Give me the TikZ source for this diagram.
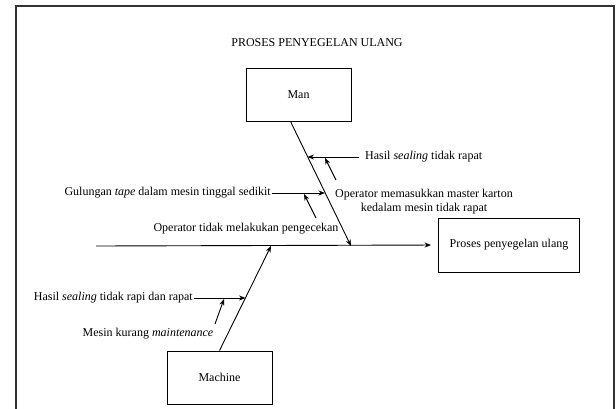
\documentclass[tikz,border=0pt]{standalone}
\usepackage{fontspec}
\setmainfont{Liberation Serif}
\usetikzlibrary{positioning, calc, arrows.meta}
\begin{document}
\begin{tikzpicture}
    [
        x=1pt, y=-1pt,
        basic/.style = {draw, text centered, line width=0.9pt, font=\fontsize{12}{14}\selectfont},
        catbox/.style = {basic, minimum width=105pt, minimum height=53pt},
        effbox/.style = {basic, minimum width=141pt, minimum height=54pt},
        lbl/.style = {inner sep=1pt, font=\fontsize{12}{14}\selectfont},
        bone/.style = {line width=0.9pt},
        >={Stealth[length=6.5pt, width=5pt]}
    ]
    \useasboundingbox (0,0) rectangle (616,408);
    \draw [line width=1.4pt, black!80] (16,412) -- (16,6) -- (614,6) -- (614,412);

    \node [lbl] (title) at (317,43) {PROSES PENYEGELAN ULANG};
    \node [catbox] (man) at (298.5,94.5) {Man};
    \node [catbox] (machine) at (219.5,377.5) {Machine};
    \node [effbox] (effect) at (509,245) {Proses penyegelan ulang};

    \coordinate (tail) at (96,246);
    \coordinate (manend) at (351,246);
    \coordinate (machend) at (271,246);
    \coordinate (m1) at (307.5,157);
    \coordinate (m2) at (325,193);
    \coordinate (k1) at (245.5,298);

    % causes
    \node [lbl, anchor=west] (c1) at (364,157) {Hasil \textit{sealing} tidak rapat};
    \node [lbl, align=center] (c2) at (424,202) {Operator memasukkan master karton\\kedalam mesin tidak rapat};
    \node [lbl, anchor=east] (c3) at (272,193) {Gulungan \textit{tape} dalam mesin tinggal sedikit};
    \node [lbl] (c4) at (246,229) {Operator tidak melakukan pengecekan};
    \node [lbl, anchor=east] (c5) at (194,298) {Hasil \textit{sealing} tidak rapi dan rapat};
    \node [lbl] (c6) at (148,334) {Mesin kurang \textit{maintenance}};

    \coordinate (s2) at (336,180);
    \coordinate (s4) at (316,218);
    \coordinate (s6) at (215,324);

    \draw [bone, ->, shorten >=7pt] (tail) -- (effect.west);
    \draw [bone, ->] ($(man.south)+(-8,0)$) -- (manend);
    \draw [bone, ->] (machine.north) -- (machend);

    \draw [bone, ->, shorten <=5pt] (c1.west) -- (m1);
    \draw [bone, ->] (s2) -- ($(m1)+(17.5,1)$);
    \draw [bone, ->] (c3.east) -- (m2);
    \draw [bone, ->] (s4) -- ($(m2)+(-21,1)$);
    \draw [bone, ->] (c5.east) -- (k1);
    \draw [bone, ->] (s6) -- ($(k1)+(-21.5,1)$);

\end{tikzpicture}
\end{document}
